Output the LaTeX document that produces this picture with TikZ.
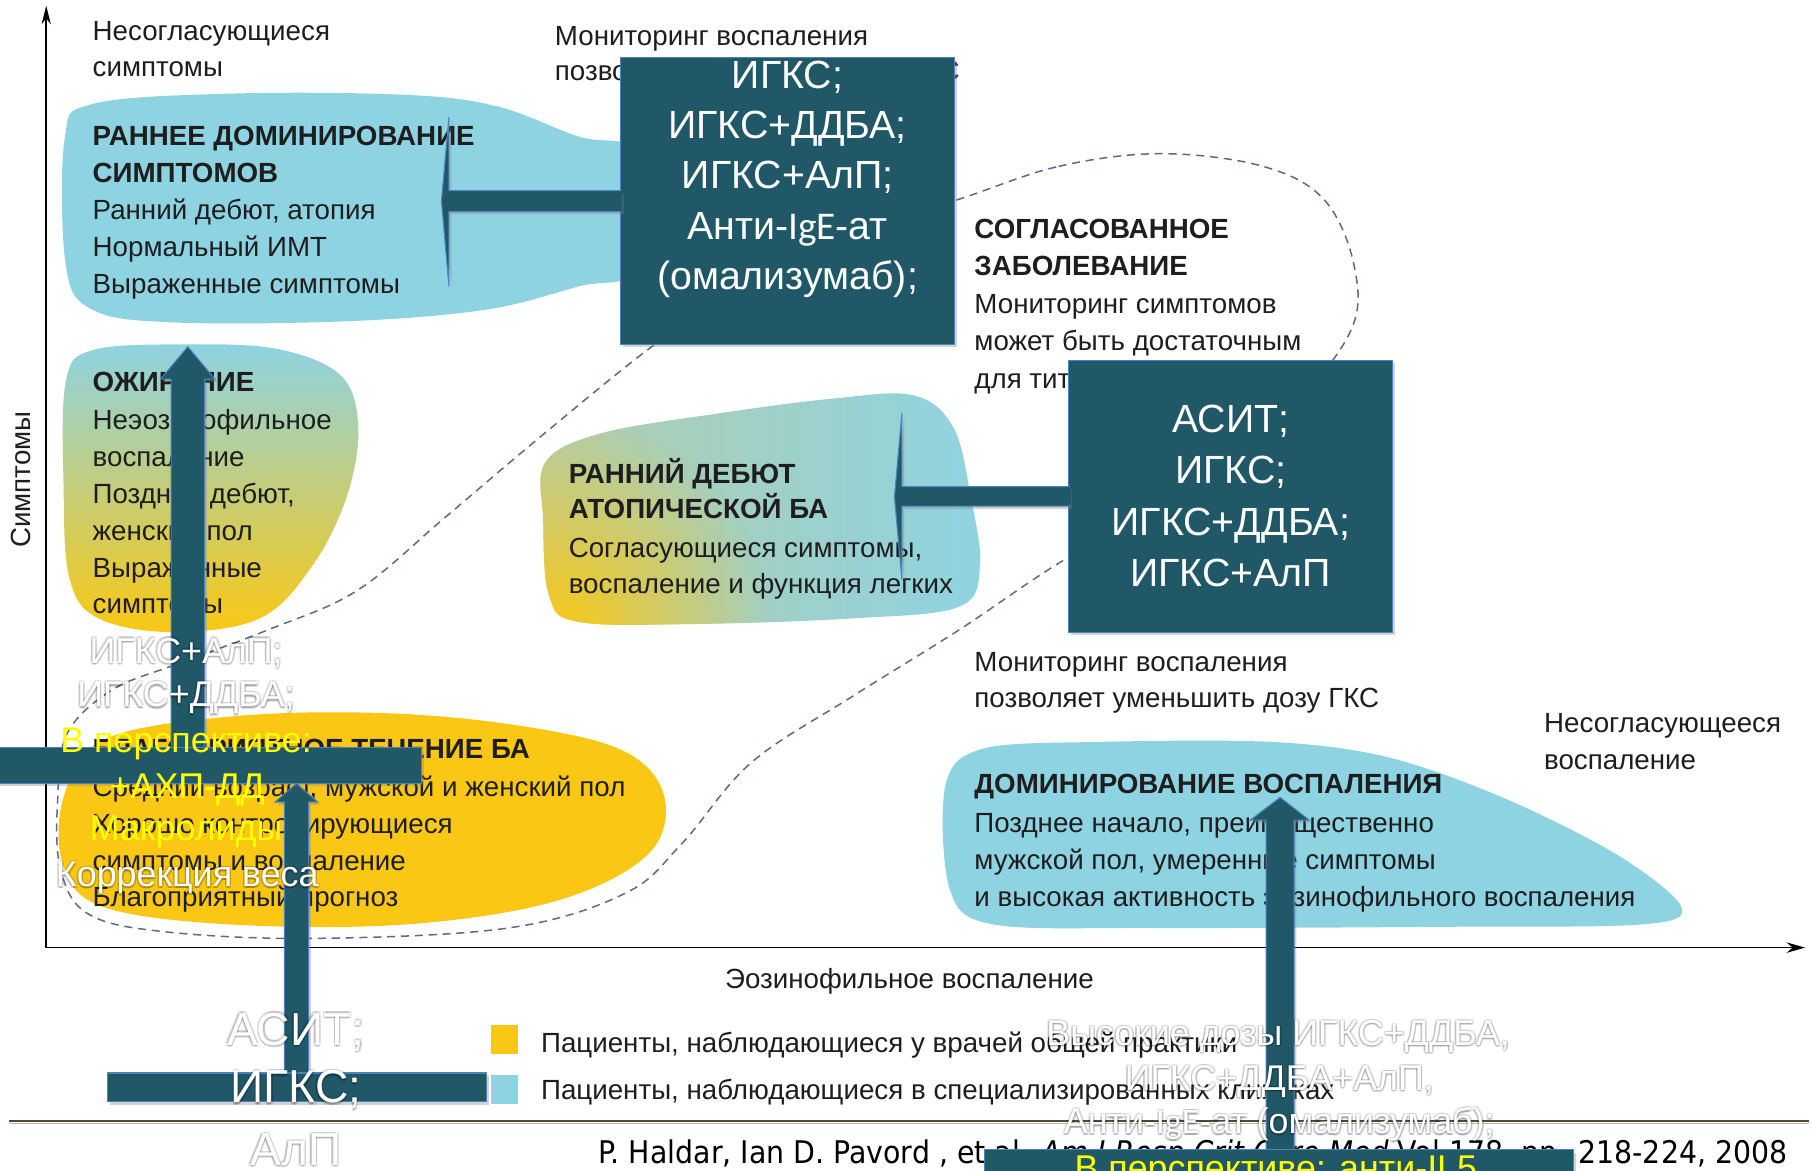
\documentclass[tikz,border=0pt]{standalone}
\usepackage{fontspec}
\setmainfont{Liberation Sans}
\newfontfamily\citefont{DejaVu Sans}[FakeStretch=0.91]
\newfontfamily\calib{Carlito}
\usetikzlibrary{shadows,calc,arrows.meta,fadings}
\definecolor{teal1}{RGB}{33,88,104}
\definecolor{edgeblue}{RGB}{79,129,189}
\definecolor{lblue}{RGB}{142,211,226}
\definecolor{ylw}{RGB}{250,200,20}
\definecolor{figtxt}{RGB}{30,30,30}
\definecolor{dashc}{RGB}{95,105,140}
\definecolor{rulec}{RGB}{85,72,55}
\definecolor{yl}{RGB}{255,255,0}
\definecolor{greeny}{RGB}{178,205,172}
\tikzfading[name=radfade, inner color=transparent!0, outer color=transparent!100]
\newcommand\glowtxt[4]{%
  \foreach \gx/\gy [count=\gk] in {1.2/1.2,-1.2/1.2,1.2/-1.2,-1.2/-1.2,0/1.8}{%
    \node[text=black, opacity=0.12, font=\fontsize{#3}{#3}\selectfont] (#1g\gk) at ($(#2)+(\gx,\gy)$) {#4};}%
  \node[text=white, font=\fontsize{#3}{#3}\selectfont] (#1) at (#2) {#4};}
\begin{document}
\begin{tikzpicture}[x=1pt,y=-1pt,
  ftx/.style={anchor=base west, inner sep=0pt, text=figtxt, font=\fontsize{24}{30}\selectfont},
  fbx/.style={anchor=base west, inner sep=0pt, text=figtxt, font=\fontsize{24}{30}\selectfont\bfseries},
  blk/.style={fill=teal1, draw=edgeblue, line width=0.9pt, drop shadow={shadow xshift=2pt, shadow yshift=-2.5pt, opacity=0.35}},
  bxt/.style={text=white, align=center, inner sep=0pt},
  ytx/.style={text=yl, font=\fontsize{31}{31}\selectfont}]
\useasboundingbox (0,0) rectangle (1568,1013);
\clip (0,0) rectangle (1568,1013);
\fill[white] (0,0) rectangle (1568,1013);

% ---------- blobs
\fill[lblue] plot[smooth cycle, tension=0.6] coordinates {(56,120) (80,90) (200,81) (350,82) (430,92) (500,118) (560,135) (560,230) (500,248) (420,268) (300,278) (150,279) (80,268) (57,230)};
\path[top color=lblue, bottom color=ylw] plot[smooth cycle, tension=0.6] coordinates {(57,330) (80,303) (160,298) (240,302) (295,325) (310,370) (300,430) (270,490) (225,535) (150,547) (85,535) (60,500) (55,420)};
\begin{scope}
\clip plot[smooth cycle, tension=0.6] coordinates {(472,400) (520,375) (620,358) (720,345) (790,342) (825,370) (840,430) (848,490) (830,525) (740,535) (600,540) (500,538) (475,515) (470,450)};
\shade[left color=greeny, right color=lblue] (465,335) rectangle (855,545);
\fill[ylw, path fading=radfade] (480,548) circle (190);
\end{scope}
\fill[ylw] plot[smooth cycle, tension=0.6] coordinates {(55,690) (90,640) (200,620) (330,617) (450,628) (540,650) (575,690) (560,740) (480,780) (350,800) (200,800) (90,785) (55,750)};
\fill[lblue] plot[smooth cycle, tension=0.55] coordinates {(818,680) (850,648) (950,642) (1100,642) (1200,655) (1300,690) (1400,740) (1455,785) (1420,800) (1250,802) (1000,803) (860,800) (822,770)};

% ---------- dashed region
\draw[dashc, line width=1.3pt, dash pattern=on 7pt off 5pt] plot[smooth cycle, tension=0.6] coordinates {(828,173) (916,144) (1005,133) (1093,144) (1146,173) (1172,231) (1168,288) (1110,360) (1020,430) (920,485) (830,545) (737,603) (650,660) (590,730) (541,773) (440,803) (270,812) (140,806) (75,790) (52,750) (50,690) (58,635) (97,597) (155,574) (232,545) (309,511) (386,447) (464,381) (560,303) (650,240) (740,200)};

% ---------- figure texts
\node[ftx] (ns1) at (80,35) {Несогласующиеся};
\node[ftx] (ns2) at (80,66) {симптомы};
\node[ftx] (mt1) at (480,39) {Мониторинг воспаления};
\node[ftx] (mt2) at (480,70) {позволяет уменьшить дозу ГКС};
\node[fbx] (b1a) at (80,126) {РАННЕЕ ДОМИНИРОВАНИЕ};
\node[fbx] (b1b) at (80,158) {СИМПТОМОВ};
\node[ftx] (b1c) at (80,190) {Ранний дебют, атопия};
\node[ftx] (b1d) at (80,222) {Нормальный ИМТ};
\node[ftx] (b1e) at (80,254) {Выраженные симптомы};
\node[fbx] (b2a) at (80,339) {ОЖИРЕНИЕ};
\node[ftx] (b2b) at (80,372) {Неэозинофильное};
\node[ftx] (b2c) at (80,404) {воспаление};
\node[ftx] (b2d) at (80,436) {Поздний дебют,};
\node[ftx] (b2e) at (80,468) {женский пол};
\node[ftx] (b2f) at (80,500) {Выраженные};
\node[ftx] (b2g) at (80,531) {симптомы};
\node[fbx] (sg1) at (843,206) {СОГЛАСОВАННОЕ};
\node[fbx] (sg2) at (843,238) {ЗАБОЛЕВАНИЕ};
\node[ftx] (sg3) at (843,271) {Мониторинг симптомов};
\node[ftx] (sg4) at (843,303) {может быть достаточным};
\node[ftx] (sg5) at (843,336) {для титрования терапии};
\node[fbx] (b3a) at (492,418) {РАННИЙ ДЕБЮТ};
\node[fbx] (b3b) at (492,449) {АТОПИЧЕСКОЙ БА};
\node[ftx] (b3c) at (492,482) {Согласующиеся симптомы,};
\node[ftx] (b3d) at (492,514) {воспаление и функция легких};
\node[ftx] (mr1) at (843,581) {Мониторинг воспаления};
\node[ftx] (mr2) at (843,612) {позволяет уменьшить дозу ГКС};
\node[ftx] (nr1) at (1336,634) {Несогласующееся};
\node[ftx] (nr2) at (1336,666) {воспаление};
\node[fbx] (b4a) at (80,656) {БЛАГОПРИЯТНОЕ ТЕЧЕНИЕ БА};
\node[ftx] (b4b) at (80,689) {Средний возраст, мужской и женский пол};
\node[ftx] (b4c) at (80,721) {Хорошо контролирующиеся};
\node[ftx] (b4d) at (80,753) {симптомы и воспаление};
\node[ftx] (b4e) at (80,784) {Благоприятный прогноз};
\node[fbx] (b5a) at (843,687) {ДОМИНИРОВАНИЕ ВОСПАЛЕНИЯ};
\node[ftx] (b5b) at (843,720) {Позднее начало, преимущественно};
\node[ftx] (b5c) at (843,752) {мужской пол, умеренные симптомы};
\node[ftx] (b5d) at (843,784) {и высокая активность эозинофильного воспаления};

% ---------- axes
\coordinate (orig) at (40,820);
\coordinate (ytop) at (40,5);
\coordinate (xend) at (1562,820);
\draw[line width=1.4pt, -{Stealth[length=16pt,width=8pt]}] (orig) -- (ytop);
\draw[line width=1.4pt, -{Stealth[length=16pt,width=9pt]}] (orig) -- (xend);
\node[text=figtxt, font=\fontsize{24}{24}\selectfont, rotate=90] (ylab) at (18,415) {Симптомы};
\node[text=figtxt, font=\fontsize{24}{24}\selectfont] (xlab) at (787,849) {Эозинофильное воспаление};

% ---------- legend
\fill[ylw] (425,887) rectangle (448,912);
\fill[lblue] (425,930) rectangle (448,955);
\node[ftx] (lg1) at (468,911) {Пациенты, наблюдающиеся у врачей общей практики};
\node[ftx] (lg2) at (468,951) {Пациенты, наблюдающиеся в специализированных клиниках};

% ---------- rule and citation
\draw[rulec, line width=2pt] (8,970) -- (1565,970);
\draw[rulec!40, line width=1pt] (8,972.5) -- (1565,972.5);
\node[anchor=base east, inner sep=0pt, font=\citefont\fontsize{27}{27}\selectfont] (cite) at (1547,1007) {P. Haldar, Ian D. Pavord , et al. \textit{Am J Resp Crit Care Med} Vol 178, pp. 218-224, 2008};

% ---------- overlay block arrows and boxes
\coordinate (atipA) at (162.5,300);
\coordinate (atipB) at (256.5,678);
\coordinate (atipC) at (1107.7,690);
\coordinate (a1tip) at (382,174);
\coordinate (a2tip) at (774,430);
\path[blk] (148,660) -- (148,328) -- (139,328) -- (atipA) -- (186,328) -- (177,328) -- (177,660) -- cycle;
\path[blk] (-5,647) rectangle (365,678);
\path[blk] (246,940) -- (246,694) -- (238,694) -- (atipB) -- (275,694) -- (267,694) -- (267,940) -- cycle;
\path[blk] (93,928.5) rectangle (421,953.5);
\path[blk] (1095.6,1005) -- (1095.6,709.6) -- (1082,709.6) -- (atipC) -- (1133,709.6) -- (1119.8,709.6) -- (1119.8,1005) -- cycle;
\path[blk] (852,995) rectangle (1362,1030);

\node[blk, minimum width=289pt, minimum height=248pt, inner sep=0pt] (box1) at (681.5,174) {};
\node[blk, minimum width=280pt, minimum height=235pt, inner sep=0pt] (box2) at (1065,429.5) {};
\path[blk] ($(box1.west)+(1,-9)$) -- (388.5,165) -- (388.5,101) -- (a1tip) -- (388.5,248) -- (388.5,183) -- ($(box1.west)+(1,9)$) -- cycle;
\path[blk] ($(box2.west)+(1,-8.5)$) -- (780.5,421) -- (780.5,357) -- (a2tip) -- (780.5,502) -- (780.5,438) -- ($(box2.west)+(1,8.5)$) -- cycle;
\fill[teal1] ($(box1.west)+(-1,-8.3)$) rectangle ($(box1.west)+(2,8.3)$);
\fill[teal1] ($(box2.west)+(-1,-7.8)$) rectangle ($(box2.west)+(2,7.8)$);

\node[bxt, font=\fontsize{34}{43.5}\selectfont] (box1txt) at (681.5,155) {ИГКС;\\ИГКС+ДДБА;\\ИГКС+АлП;\\Анти-{\calib IgE}-ат\\(омализумаб);};
\node[bxt, font=\fontsize{34}{44.5}\selectfont] (box2txt) at (1065,429) {АСИТ;\\ИГКС;\\ИГКС+ДДБА;\\ИГКС+АлП};

% ---------- overlay texts
\glowtxt{ta}{161,565}{31}{ИГКС+АлП;}
\glowtxt{tb}{161,604}{31}{ИГКС+ДДБА;}
\node[ytx] (tc) at (161,644) {В перспективе:};
\node[ytx] (td) at (162,683) {+АХП-ДД};
\node[ytx] (te) at (161,720) {Макролиды};
\glowtxt{tf}{162,760}{31}{Коррекция веса}
\glowtxt{ua}{256,893}{40}{АСИТ;}
\glowtxt{ub}{256,943}{40}{ИГКС;}
\glowtxt{uc}{256,995}{40}{АлП}
\glowtxt{va}{1106,897}{31}{Высокие дозы ИГКС+ДДБА,}
\glowtxt{vb}{1107,936}{31}{ИГКС+ДДБА+АлП,}
\glowtxt{vc}{1107,973}{31}{Анти-{\calib IgE}-ат (омализумаб);}
\node[ytx] (vd) at (1104,1014) {В перспективе: анти-IL5};
\end{tikzpicture}
\end{document}
